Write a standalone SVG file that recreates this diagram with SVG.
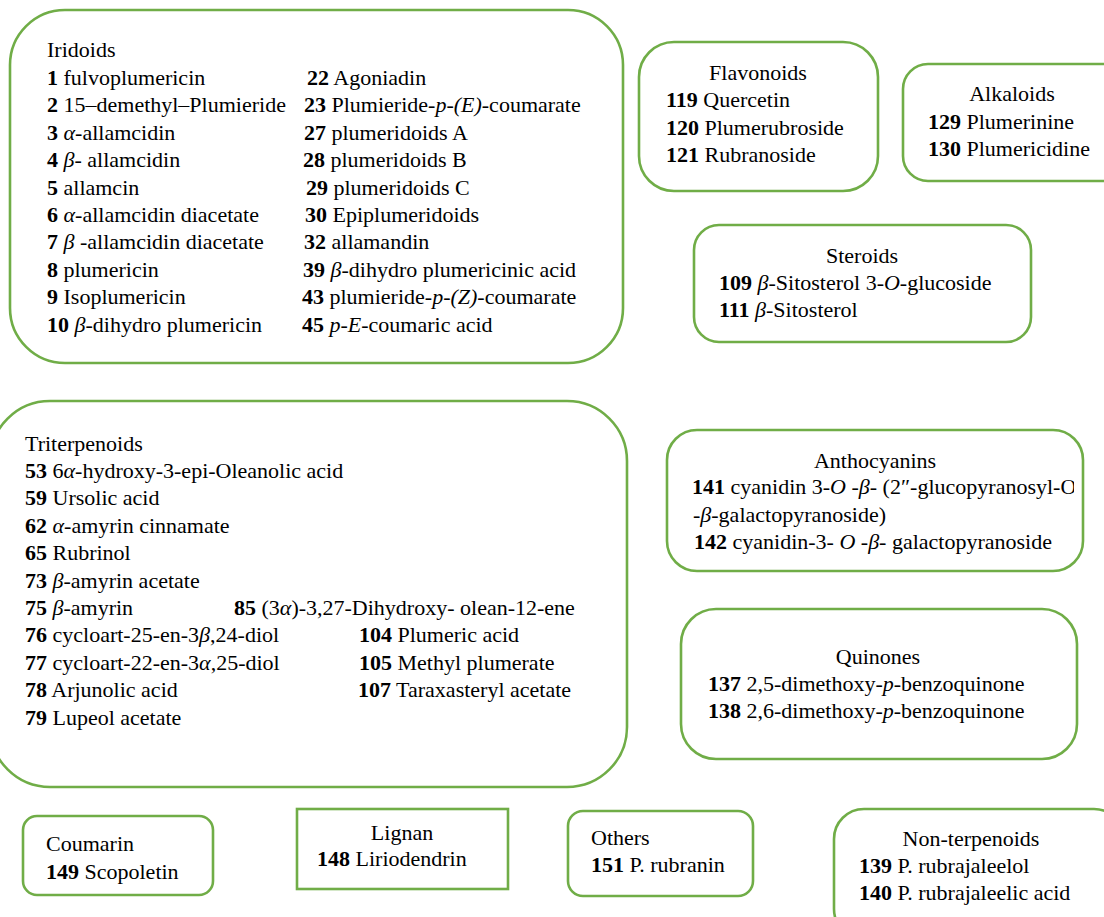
<svg xmlns="http://www.w3.org/2000/svg" width="1104" height="917" viewBox="0 0 1104 917">
<style>
.box{fill:#fff;stroke:#70AD47;stroke-width:2.6}
text{font-family:"Liberation Serif","Times New Roman",serif;font-size:22px;fill:#000}
.b{font-weight:bold}
.i{font-style:italic}
.c{text-anchor:middle}
</style>
<defs>
<clipPath id="clipA"><rect x="660" y="470" width="414" height="40"/></clipPath>
</defs>
<rect width="1104" height="917" fill="#fff"/>
<g id="connectors"></g>

<g id="iridoids">
<rect class="box" x="10" y="10" width="613" height="353" rx="55"/>
<text x="47" y="57">Iridoids</text>
<text x="47" y="85"><tspan class="b">1</tspan> fulvoplumericin</text>
<text x="47" y="112"><tspan class="b">2</tspan> 15–demethyl–Plumieride</text>
<text x="47" y="140"><tspan class="b">3</tspan> <tspan class="i">α</tspan>-allamcidin</text>
<text x="47" y="167"><tspan class="b">4</tspan> <tspan class="i">β</tspan>- allamcidin</text>
<text x="47" y="195"><tspan class="b">5</tspan> allamcin</text>
<text x="47" y="222"><tspan class="b">6</tspan> <tspan class="i">α</tspan>-allamcidin diacetate</text>
<text x="47" y="249"><tspan class="b">7</tspan> <tspan class="i">β</tspan> -allamcidin diacetate</text>
<text x="47" y="277"><tspan class="b">8</tspan> plumericin</text>
<text x="47" y="304"><tspan class="b">9</tspan> Isoplumericin</text>
<text x="47" y="332"><tspan class="b">10</tspan> <tspan class="i">β</tspan>-dihydro plumericin</text>
<text x="307" y="85"><tspan class="b">22</tspan> Agoniadin</text>
<text x="304" y="112"><tspan class="b">23</tspan> Plumieride-<tspan class="i">p</tspan>-<tspan class="i">(E)</tspan>-coumarate</text>
<text x="304" y="140"><tspan class="b">27</tspan> plumeridoids A</text>
<text x="303" y="167"><tspan class="b">28</tspan> plumeridoids B</text>
<text x="306" y="195"><tspan class="b">29</tspan> plumeridoids C</text>
<text x="305" y="222"><tspan class="b">30</tspan> Epiplumeridoids</text>
<text x="304" y="249"><tspan class="b">32</tspan> allamandin</text>
<text x="303" y="277"><tspan class="b">39</tspan> <tspan class="i">β</tspan>-dihydro plumericinic acid</text>
<text x="302" y="304"><tspan class="b">43</tspan> plumieride-<tspan class="i">p</tspan>-<tspan class="i">(Z)</tspan>-coumarate</text>
<text x="302" y="332"><tspan class="b">45</tspan> <tspan class="i">p-E</tspan>-coumaric acid</text>
</g>

<g id="flavonoids">
<rect class="box" x="639" y="42" width="239" height="149" rx="35"/>
<text class="c" x="758" y="80">Flavonoids</text>
<text x="666" y="107"><tspan class="b">119</tspan> Quercetin</text>
<text x="666" y="135"><tspan class="b">120</tspan> Plumerubroside</text>
<text x="666" y="162"><tspan class="b">121</tspan> Rubranoside</text>
</g>

<g id="alkaloids">
<rect class="box" x="903" y="64" width="230" height="117" rx="25"/>
<text class="c" x="1012" y="101">Alkaloids</text>
<text x="928" y="129"><tspan class="b">129</tspan> Plumerinine</text>
<text x="928" y="156"><tspan class="b">130</tspan> Plumericidine</text>
</g>

<g id="steroids">
<rect class="box" x="694" y="225" width="337" height="117" rx="25"/>
<text class="c" x="862" y="263">Steroids</text>
<text x="719" y="290"><tspan class="b">109</tspan> <tspan class="i">β</tspan>-Sitosterol 3-<tspan class="i">O</tspan>-glucoside</text>
<text x="719" y="317"><tspan class="b">111</tspan> <tspan class="i">β</tspan>-Sitosterol</text>
</g>

<g id="triterpenoids">
<rect class="box" x="-10" y="401" width="637" height="386" rx="60"/>
<text x="25" y="451">Triterpenoids</text>
<text x="25" y="478"><tspan class="b">53</tspan> 6<tspan class="i">α</tspan>-hydroxy-3-epi-Oleanolic acid</text>
<text x="25" y="505"><tspan class="b">59</tspan> Ursolic acid</text>
<text x="25" y="533"><tspan class="b">62</tspan> <tspan class="i">α</tspan>-amyrin cinnamate</text>
<text x="25" y="560"><tspan class="b">65</tspan> Rubrinol</text>
<text x="25" y="588"><tspan class="b">73</tspan> <tspan class="i">β</tspan>-amyrin acetate</text>
<text x="25" y="615"><tspan class="b">75</tspan> <tspan class="i">β</tspan>-amyrin</text>
<text x="25" y="642"><tspan class="b">76</tspan> cycloart-25-en-3<tspan class="i">β</tspan>,24-diol</text>
<text x="25" y="670"><tspan class="b">77</tspan> cycloart-22-en-3<tspan class="i">α</tspan>,25-diol</text>
<text x="25" y="697"><tspan class="b">78</tspan> Arjunolic acid</text>
<text x="25" y="725"><tspan class="b">79</tspan> Lupeol acetate</text>
<text x="234" y="615"><tspan class="b">85</tspan> (3<tspan class="i">α</tspan>)-3,27-Dihydroxy- olean-12-ene</text>
<text x="359" y="642"><tspan class="b">104</tspan> Plumeric acid</text>
<text x="359" y="670"><tspan class="b">105</tspan> Methyl plumerate</text>
<text x="358" y="697"><tspan class="b">107</tspan> Taraxasteryl acetate</text>
</g>

<g id="anthocyanins">
<rect class="box" x="667" y="430" width="416" height="141" rx="30"/>
<text class="c" x="875" y="468">Anthocyanins</text>
<text x="692" y="494" clip-path="url(#clipA)"><tspan class="b">141</tspan> cyanidin 3-<tspan class="i">O</tspan> -<tspan class="i">β</tspan>- (2″-glucopyranosyl-O</text>
<text x="693" y="522">-<tspan class="i">β</tspan>-galactopyranoside)</text>
<text x="694" y="549"><tspan class="b">142</tspan> cyanidin-3- <tspan class="i">O</tspan> -<tspan class="i">β</tspan>- galactopyranoside</text>
</g>

<g id="quinones">
<rect class="box" x="681" y="609" width="396" height="150" rx="35"/>
<text class="c" x="878" y="664">Quinones</text>
<text x="708" y="691"><tspan class="b">137</tspan> 2,5-dimethoxy-<tspan class="i">p</tspan>-benzoquinone</text>
<text x="708" y="718"><tspan class="b">138</tspan> 2,6-dimethoxy-<tspan class="i">p</tspan>-benzoquinone</text>
</g>

<g id="coumarin">
<rect class="box" x="23" y="816" width="190" height="79" rx="14"/>
<text x="46" y="851">Coumarin</text>
<text x="46" y="879"><tspan class="b">149</tspan> Scopoletin</text>
</g>

<g id="lignan">
<rect class="box" x="297" y="809" width="211" height="80"/>
<text class="c" x="402" y="840">Lignan</text>
<text x="317" y="866"><tspan class="b">148</tspan> Liriodendrin</text>
</g>

<g id="others">
<rect class="box" x="568" y="811" width="185" height="85" rx="15"/>
<text x="591" y="845">Others</text>
<text x="591" y="872"><tspan class="b">151</tspan> P. rubranin</text>
</g>

<g id="nonterpenoids">
<rect class="box" x="834" y="809" width="290" height="130" rx="30"/>
<text class="c" x="971" y="846">Non-terpenoids</text>
<text x="859" y="873"><tspan class="b">139</tspan> P. rubrajaleelol</text>
<text x="859" y="900"><tspan class="b">140</tspan> P. rubrajaleelic acid</text>
</g>
</svg>
